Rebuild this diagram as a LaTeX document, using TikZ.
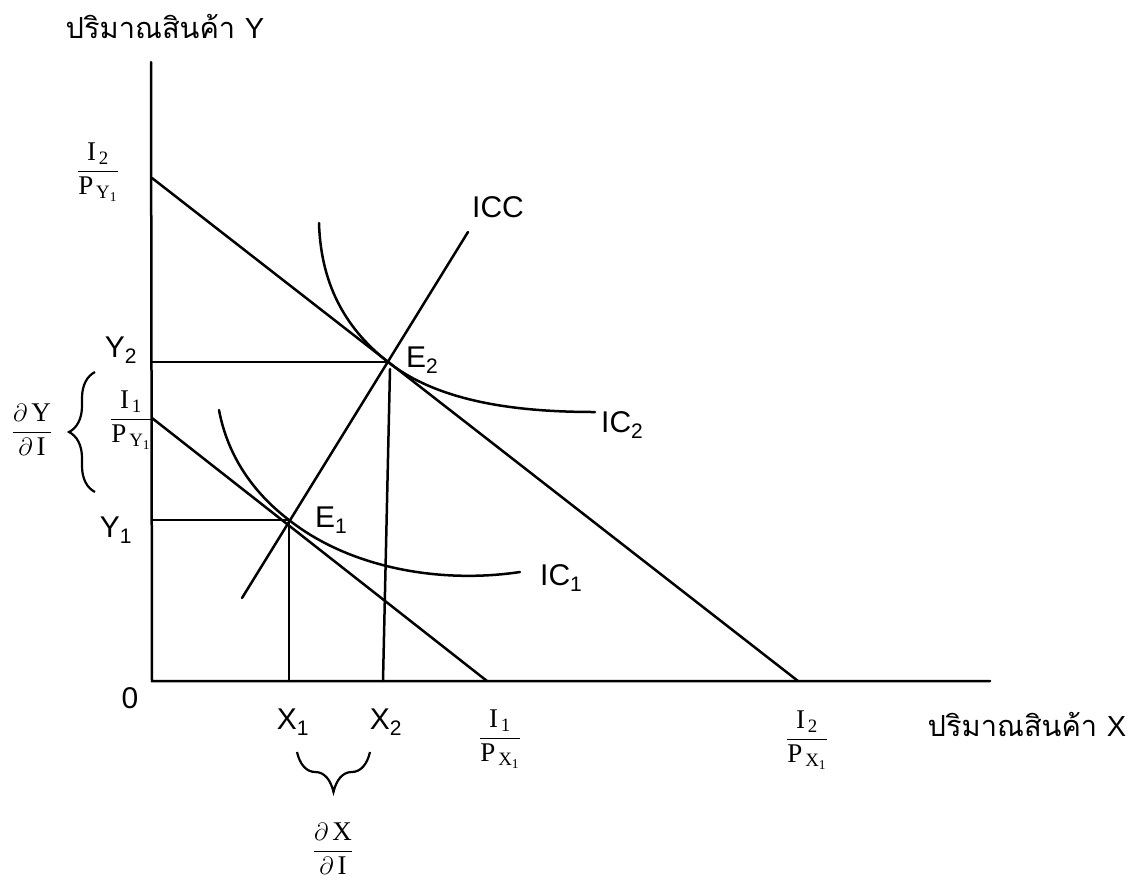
\documentclass[tikz,border=0pt]{standalone}
\usepackage{amsmath}
\usepackage{fontspec}
\setmainfont{Liberation Serif}
\setsansfont{Liberation Sans}
\newfontfamily\thaifont[Script=Thai]{Loma}
\usetikzlibrary{decorations.pathreplacing}
\begin{document}
\begin{tikzpicture}[x=1pt,y=-1pt,
  ln/.style={line width=2.5pt, line cap=round},
  lbl/.style={font=\sffamily\fontsize{30}{33}\selectfont, inner sep=0pt},
  frc/.style={font=\fontsize{27}{31}\selectfont, inner sep=0pt},
  thl/.style={font=\fontsize{29}{34}\selectfont, inner sep=0pt},
  brc/.style={line width=2.2pt, decorate}]
\useasboundingbox (0,0) rectangle (1137,879);
% key points
\coordinate (O) at (152,681);
\coordinate (ytop) at (151,62);
\coordinate (xend) at (990,681);
\coordinate (B2y) at (152,178);
\coordinate (B2x) at (798,681);
\coordinate (B1y) at (152,418);
\coordinate (B1x) at (487,681);
\coordinate (E1) at (289,520);
\coordinate (E2) at (388,362);
\coordinate (ICCa) at (242,598);
\coordinate (ICCb) at (468,232);
\coordinate (X1b) at (289,681);
\coordinate (X2t) at (390,369);
\coordinate (X2b) at (383,681);
\coordinate (Y1l) at (152,520);
\coordinate (Y2l) at (152,362);
\coordinate (IC2a) at (319,223);
\coordinate (IC2b) at (595,412);
\coordinate (IC1a) at (219,410);
\coordinate (IC1b) at (520,572);
% axes
\draw[ln] (ytop) -- (O) -- (xend);
% budget lines
\draw[ln] (B2y) -- (B2x);
\draw[ln] (B1y) -- (B1x);
% ICC
\draw[ln] (ICCa) -- (ICCb);
% indifference curves
\draw[ln] (IC2a) .. controls (321,290) and (350,332) .. (E2)
  .. controls (440,403) and (520,412) .. (IC2b);
\draw[ln] (IC1a) .. controls (228,458) and (255,494) .. (E1)
  .. controls (350,568) and (440,584) .. (IC1b);
% drop lines
\draw[ln] (Y2l) -- (E2);
\draw[ln] (X2t) -- (X2b);
\draw[ln] (Y1l) -- (E1);
\draw[ln] (E1) -- (X1b);
% labels
\node[thl] (ylab) at (165,26) {\thaifont ปริมาณสินค้า\ \sffamily Y};
\node[thl] (xlab) at (1027,724) {\thaifont ปริมาณสินค้า\ \sffamily X};
\node[lbl] (zero) at (130,698) {0};
\node[lbl] (y2) at (121,350) {$\text{Y}_{\text{2}}$};
\node[lbl] (y1) at (116,530) {$\text{Y}_{\text{1}}$};
\node[lbl] (x1) at (293,722) {$\text{X}_{\text{1}}$};
\node[lbl] (x2) at (386,722) {$\text{X}_{\text{2}}$};
\node[lbl, anchor=west] (e2) at (406,360) {$\text{E}_{\text{2}}$};
\node[lbl, anchor=west] (e1) at (315,520) {$\text{E}_{\text{1}}$};
\node[lbl] (icc) at (498,207) {ICC};
\node[lbl, anchor=west] (ic2) at (601,425) {$\text{IC}_{\text{2}}$};
\node[lbl, anchor=west] (ic1) at (540,578) {$\text{IC}_{\text{1}}$};
% fractions
\node[frc] (i2py) at (98,172) {$\dfrac{\text{I}_{\,\text{2}}}{\text{P}_{\,\text{Y}_{\text{1}}}}$};
\node[frc] (i1py) at (131,420) {$\dfrac{\text{I}_{\,\text{1}}}{\text{P}_{\,\text{Y}_{\text{1}}}}$};
\node[frc] (dydi) at (32,430) {$\dfrac{\partial\,\text{Y}}{\partial\,\text{I}}$};
\node[frc] (i1px) at (500,739) {$\dfrac{\text{I}_{\,\text{1}}}{\text{P}_{\,\text{X}_{\text{1}}}}$};
\node[frc] (i2px) at (807,740) {$\dfrac{\text{I}_{\,\text{2}}}{\text{P}_{\,\text{X}_{\text{1}}}}$};
\node[frc] (dxdi) at (333,849) {$\dfrac{\partial\,\text{X}}{\partial\,\text{I}}$};
% braces
\coordinate (bya) at (95,492);
\coordinate (byb) at (95,372);
\draw[brc, decoration={brace, amplitude=26pt}] (bya) -- (byb);
\coordinate (bxa) at (370,752);
\coordinate (bxb) at (297,752);
\draw[brc, decoration={brace, amplitude=40pt}] (bxa) -- (bxb);
\end{tikzpicture}
\end{document}
